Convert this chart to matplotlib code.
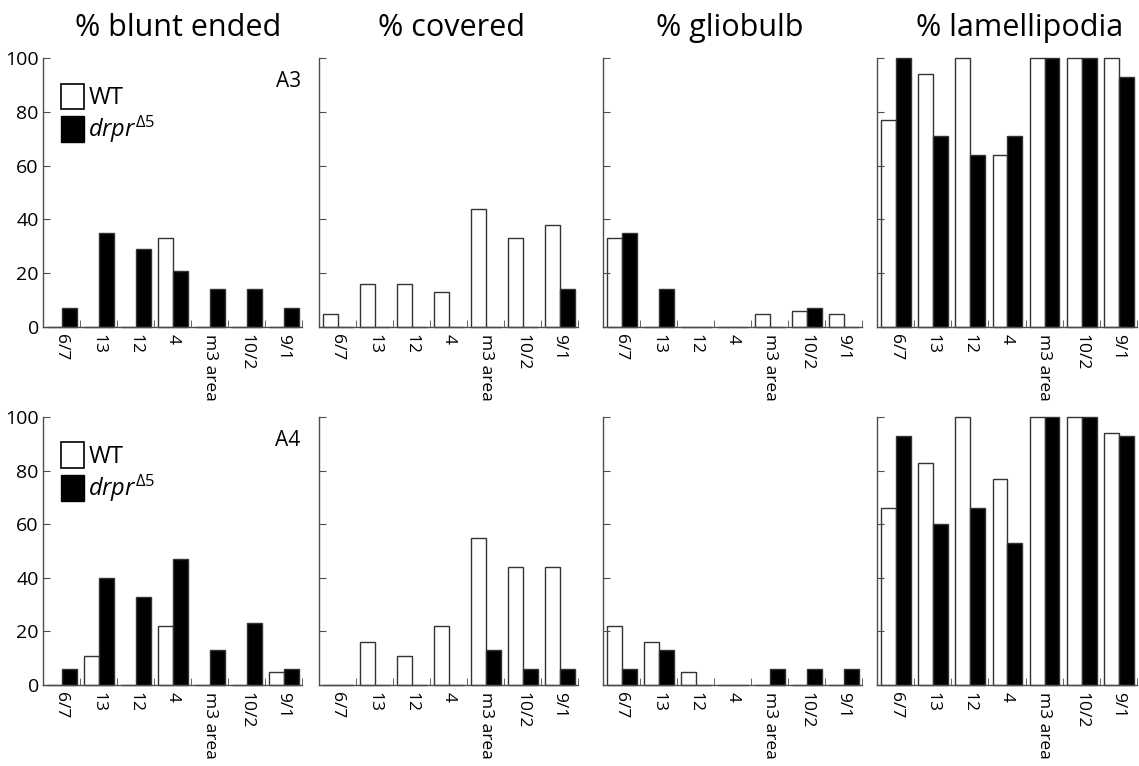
import matplotlib
matplotlib.use("Agg")
import matplotlib.pyplot as plt
from matplotlib.patches import Patch
import numpy as np

plt.rcParams['font.family'] = ['Open Sans', 'DejaVu Sans']
plt.rcParams['mathtext.fontset'] = 'custom'
plt.rcParams['mathtext.rm'] = 'Open Sans'
plt.rcParams['mathtext.it'] = 'Open Sans:italic'

regions = ["6/7", "13", "12", "4", "m3 area", "10/2", "9/1"]
titles = ["% blunt ended", "% covered", "% gliobulb", "% lamellipodia"]
row_labels = ["A3", "A4"]

# A3 row
a3_blunt_wt = [0, 0, 0, 33, 0, 0, 0]
a3_blunt_drpr = [7, 35, 29, 21, 14, 14, 7]
a3_cov_wt = [5, 16, 16, 13, 44, 33, 38]
a3_cov_drpr = [0, 0, 0, 0, 0, 0, 14]
a3_glio_wt = [33, 0, 0, 0, 5, 6, 5]
a3_glio_drpr = [35, 14, 0, 0, 0, 7, 0]
a3_lam_wt = [77, 94, 100, 64, 100, 100, 100]
a3_lam_drpr = [100, 71, 64, 71, 100, 100, 93]

# A4 row
a4_blunt_wt = [0, 11, 0, 22, 0, 0, 5]
a4_blunt_drpr = [6, 40, 33, 47, 13, 23, 6]
a4_cov_wt = [0, 16, 11, 22, 55, 44, 44]
a4_cov_drpr = [0, 0, 0, 0, 13, 6, 6]
a4_glio_wt = [22, 16, 5, 0, 0, 0, 0]
a4_glio_drpr = [6, 13, 0, 0, 6, 6, 6]
a4_lam_wt = [66, 83, 100, 77, 100, 100, 94]
a4_lam_drpr = [93, 60, 66, 53, 100, 100, 93]

rows = [
    [(a3_blunt_wt, a3_blunt_drpr), (a3_cov_wt, a3_cov_drpr),
     (a3_glio_wt, a3_glio_drpr), (a3_lam_wt, a3_lam_drpr)],
    [(a4_blunt_wt, a4_blunt_drpr), (a4_cov_wt, a4_cov_drpr),
     (a4_glio_wt, a4_glio_drpr), (a4_lam_wt, a4_lam_drpr)],
]

W, H = 1139, 766
fig = plt.figure(figsize=(W / 100, H / 100), dpi=100)

lefts = [43, 319, 603, 877]
widths = [259, 259, 259, 260]
tops = [58, 417]
bottoms = [327, 685]
title_x = [0.52, 0.51, 0.49, 0.55]
edge = '0.2'

x = np.arange(len(regions))
for r in range(2):
    for c in range(4):
        ax = fig.add_axes([lefts[c] / W, 1 - bottoms[r] / H,
                           widths[c] / W, (bottoms[r] - tops[r]) / H])
        wt, drpr = rows[r][c]
        ax.bar(x + 0.31, wt, width=0.4, color='white', edgecolor=edge,
               linewidth=1.0, clip_on=False)
        ax.bar(x + 0.71, drpr, width=0.4, color='black', edgecolor=edge,
               linewidth=1.0, clip_on=False)
        ax.set_xlim(0, 7)
        ax.set_ylim(0, 100)
        for s in ['top', 'right']:
            ax.spines[s].set_visible(False)
        for s in ['left', 'bottom']:
            ax.spines[s].set_color('0.3')
            ax.spines[s].set_linewidth(1.0)
        ax.set_xticks(x + 0.5)
        ax.set_xticklabels(regions, rotation=-90, fontsize=12.5,
                           va='top', ha='center')
        ax.set_xticks(np.arange(1, 8), minor=True)
        ax.tick_params(axis='x', which='major', length=0, pad=5)
        ax.tick_params(axis='x', which='minor', direction='in', length=5,
                       color='0.3')
        ax.set_yticks([0, 20, 40, 60, 80, 100])
        ax.tick_params(axis='y', direction='in', length=5, color='0.3',
                       labelsize=14, pad=3)
        if c > 0:
            ax.set_yticklabels([])
        else:
            ax.text(0.995, 0.95, row_labels[r], transform=ax.transAxes,
                    ha='right', va='top', fontsize=15)
            handles = [Patch(facecolor='white', edgecolor='black', linewidth=1.2),
                       Patch(facecolor='black', edgecolor='black')]
            ax.legend(handles, ['WT', r'$\mathit{drpr}^{\Delta\mathit{5}}$'],
                      loc='upper left', bbox_to_anchor=(0.07, 0.905),
                      frameon=False, fontsize=17, handlelength=0.95,
                      handleheight=1.3, handletextpad=0.2,
                      labelspacing=0.15, borderaxespad=0, borderpad=0)
        if r == 0:
            ax.set_title(titles[c], fontsize=22, pad=16, x=title_x[c])

fig.savefig("out.png", dpi=100)
